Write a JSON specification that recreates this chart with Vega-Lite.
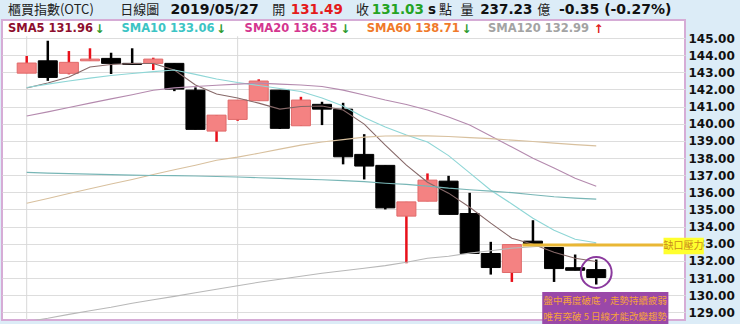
{
  "$schema": "https://vega.github.io/schema/vega-lite/v6.json",
  "autosize": {"type": "none"},
  "width": 683,
  "height": 300,
  "padding": {"left": 2, "top": 20, "right": 55, "bottom": 4},
  "background": "#dcecf7",
  "config": {
    "view": {"fill": "white", "stroke": "#d6acd6", "strokeWidth": 2},
    "text": {"baseline": "middle", "align": "left"}
  },
  "resolve": {"axis": {"x": "independent", "y": "independent"}},
  "data": {
    "values": [
      {"i": 1, "o": 142.95, "h": 143.95, "l": 142.95, "c": 143.54, "ma5": 142.08, "ma10": 142.11, "ma20": 140.45, "ma60": 135.36, "ma120": 128.45, "mx": 137.16},
      {"i": 2, "o": 143.67, "h": 144.84, "l": 142.50, "c": 142.70, "ma5": 142.37, "ma10": 142.31, "ma20": 140.69, "ma60": 135.64, "ma120": 128.65, "mx": 137.12},
      {"i": 3, "o": 142.94, "h": 144.24, "l": 142.88, "c": 143.58, "ma5": 142.72, "ma10": 142.49, "ma20": 140.95, "ma60": 135.93, "ma120": 128.88, "mx": 137.09},
      {"i": 4, "o": 143.67, "h": 144.40, "l": 143.67, "c": 143.77, "ma5": 143.31, "ma10": 142.66, "ma20": 141.20, "ma60": 136.21, "ma120": 129.09, "mx": 137.06},
      {"i": 5, "o": 143.81, "h": 144.14, "l": 142.90, "c": 143.52, "ma5": 143.45, "ma10": 142.81, "ma20": 141.45, "ma60": 136.48, "ma120": 129.29, "mx": 137.03},
      {"i": 6, "o": 143.52, "h": 144.40, "l": 143.46, "c": 143.46, "ma5": 143.51, "ma10": 142.93, "ma20": 141.69, "ma60": 136.75, "ma120": 129.53, "mx": 137.00},
      {"i": 7, "o": 143.52, "h": 143.85, "l": 143.13, "c": 143.77, "ma5": 143.51, "ma10": 143.04, "ma20": 141.95, "ma60": 137.04, "ma120": 129.73, "mx": 136.98},
      {"i": 8, "o": 143.52, "h": 143.52, "l": 141.90, "c": 142.02, "ma5": 143.13, "ma10": 143.13, "ma20": 142.09, "ma60": 137.31, "ma120": 129.93, "mx": 136.97},
      {"i": 9, "o": 141.96, "h": 142.12, "l": 139.67, "c": 139.67, "ma5": 142.26, "ma10": 142.88, "ma20": 142.17, "ma60": 137.58, "ma120": 130.14, "mx": 136.95},
      {"i": 10, "o": 139.57, "h": 140.50, "l": 138.95, "c": 140.50, "ma5": 141.73, "ma10": 142.61, "ma20": 142.24, "ma60": 137.87, "ma120": 130.34, "mx": 136.92},
      {"i": 11, "o": 140.25, "h": 141.38, "l": 140.17, "c": 141.38, "ma5": 141.50, "ma10": 142.40, "ma20": 142.31, "ma60": 138.05, "ma120": 130.55, "mx": 136.89},
      {"i": 12, "o": 141.34, "h": 142.59, "l": 141.34, "c": 142.49, "ma5": 141.20, "ma10": 142.23, "ma20": 142.37, "ma60": 138.28, "ma120": 130.75, "mx": 136.85},
      {"i": 13, "o": 141.96, "h": 141.96, "l": 139.69, "c": 139.73, "ma5": 140.85, "ma10": 142.05, "ma20": 142.31, "ma60": 138.52, "ma120": 130.93, "mx": 136.81},
      {"i": 14, "o": 139.88, "h": 141.57, "l": 139.88, "c": 141.38, "ma5": 141.00, "ma10": 141.88, "ma20": 142.26, "ma60": 138.75, "ma120": 131.10, "mx": 136.77},
      {"i": 15, "o": 141.13, "h": 141.28, "l": 139.92, "c": 140.85, "ma5": 141.03, "ma10": 141.50, "ma20": 142.17, "ma60": 138.93, "ma120": 131.28, "mx": 136.73},
      {"i": 16, "o": 140.85, "h": 141.22, "l": 137.63, "c": 138.07, "ma5": 140.80, "ma10": 141.03, "ma20": 141.96, "ma60": 139.07, "ma120": 131.42, "mx": 136.68},
      {"i": 17, "o": 138.21, "h": 139.39, "l": 136.75, "c": 137.53, "ma5": 139.98, "ma10": 140.36, "ma20": 141.67, "ma60": 139.22, "ma120": 131.57, "mx": 136.62},
      {"i": 18, "o": 137.57, "h": 137.57, "l": 135.00, "c": 135.09, "ma5": 138.75, "ma10": 139.81, "ma20": 141.38, "ma60": 139.28, "ma120": 131.72, "mx": 136.53},
      {"i": 19, "o": 134.61, "h": 135.44, "l": 131.86, "c": 135.44, "ma5": 137.58, "ma10": 139.34, "ma20": 141.12, "ma60": 139.29, "ma120": 131.92, "mx": 136.46},
      {"i": 20, "o": 135.48, "h": 137.10, "l": 135.48, "c": 136.71, "ma5": 136.59, "ma10": 138.93, "ma20": 140.80, "ma60": 139.29, "ma120": 132.15, "mx": 136.36},
      {"i": 21, "o": 136.65, "h": 136.96, "l": 134.71, "c": 134.71, "ma5": 135.95, "ma10": 138.14, "ma20": 140.39, "ma60": 139.25, "ma120": 132.27, "mx": 136.24},
      {"i": 22, "o": 134.76, "h": 135.97, "l": 132.43, "c": 132.43, "ma5": 135.13, "ma10": 137.13, "ma20": 139.92, "ma60": 139.19, "ma120": 132.45, "mx": 136.15},
      {"i": 23, "o": 132.43, "h": 133.11, "l": 131.20, "c": 131.61, "ma5": 134.20, "ma10": 136.12, "ma20": 139.28, "ma60": 139.13, "ma120": 132.59, "mx": 136.07},
      {"i": 24, "o": 131.32, "h": 132.95, "l": 130.77, "c": 132.95, "ma5": 133.32, "ma10": 135.32, "ma20": 138.64, "ma60": 139.04, "ma120": 132.74, "mx": 135.98},
      {"i": 25, "o": 133.15, "h": 134.37, "l": 133.01, "c": 133.01, "ma5": 132.97, "ma10": 134.49, "ma20": 137.99, "ma60": 138.96, "ma120": 132.82, "mx": 135.86},
      {"i": 26, "o": 132.78, "h": 132.78, "l": 130.77, "c": 131.55, "ma5": 132.50, "ma10": 133.79, "ma20": 137.41, "ma60": 138.87, "ma120": 132.91, "mx": 135.74},
      {"i": 27, "o": 131.60, "h": 132.37, "l": 131.45, "c": 131.45, "ma5": 132.15, "ma10": 133.26, "ma20": 136.82, "ma60": 138.78, "ma120": 132.97, "mx": 135.66},
      {"i": 28, "o": 131.49, "h": 132.08, "l": 130.62, "c": 131.03, "ma5": 131.96, "ma10": 133.06, "ma20": 136.35, "ma60": 138.71, "ma120": 132.99, "mx": 135.60}
    ]
  },
  "layer": [
    {
      "data": {"values": [{"i": 1}, {"i": 11}]},
      "mark": {"type": "rule", "color": "#d8d8d8", "strokeWidth": 1},
      "encoding": {
        "x": {"field": "i", "type": "quantitative", "scale": {"domain": [0.066, 31.971], "nice": false, "zero": false}, "axis": null},
        "y": {"datum": 145.1, "scale": {"domain": [128.55, 146.05], "nice": false, "zero": false}, "axis": null},
        "y2": {"datum": 128.55}
      }
    },
    {
      "mark": {"type": "rule", "strokeWidth": 2.5},
      "encoding": {
        "x": {"field": "i", "type": "quantitative", "scale": {"domain": [0.066, 31.971], "nice": false, "zero": false}, "axis": null},
        "y": {"field": "l", "type": "quantitative", "scale": {"domain": [128.55, 146.05], "nice": false, "zero": false},
          "axis": {"orient": "right", "values": [129, 130, 131, 132, 133, 134, 135, 136, 137, 138, 139, 140, 141, 142, 143, 144, 145], "format": ".2f", "title": null, "domain": false, "ticks": false, "labelFont": "DejaVu Sans", "labelFontWeight": "bold", "labelFontSize": 12, "labelColor": "#111111", "labelPadding": 3, "labelOverlap": false, "grid": true, "gridColor": "#dddddd", "gridWidth": 1}},
        "y2": {"field": "h"},
        "color": {"condition": {"test": "datum.c > datum.o", "value": "#e8101a"}, "value": "#000000"}
      }
    },
    {
      "mark": {"type": "bar", "size": 19, "orient": "vertical", "strokeWidth": 1},
      "encoding": {
        "x": {"field": "i", "type": "quantitative", "scale": {"domain": [0.066, 31.971], "nice": false, "zero": false}, "axis": null},
        "y": {"field": "o", "type": "quantitative", "scale": {"domain": [128.55, 146.05], "nice": false, "zero": false}, "axis": null},
        "y2": {"field": "c"},
        "fill": {"condition": {"test": "datum.c > datum.o", "value": "#f48282"}, "value": "#000000"},
        "stroke": {"condition": {"test": "datum.c > datum.o", "value": "#e06a6a"}, "value": "#000000"}
      }
    },
    {
      "transform": [{"fold": ["ma5", "ma10", "ma20", "ma60", "ma120", "mx"], "as": ["ma", "v"]}],
      "mark": {"type": "line", "strokeWidth": 1.1, "clip": true},
      "encoding": {
        "x": {"field": "i", "type": "quantitative", "scale": {"domain": [0.066, 31.971], "nice": false, "zero": false}, "axis": null},
        "y": {"field": "v", "type": "quantitative", "scale": {"domain": [128.55, 146.05], "nice": false, "zero": false}, "axis": null},
        "detail": {"field": "ma"},
        "color": {"field": "ma", "type": "nominal", "legend": null,
          "scale": {"domain": ["ma5", "ma10", "ma20", "ma60", "ma120", "mx"], "range": ["#866868", "#8ed6d6", "#b48aae", "#d8c09e", "#b8b8b8", "#78b6b6"]}}
      }
    },
    {
      "data": {"values": [{}]},
      "mark": {"type": "rule", "color": "#e9b735", "strokeWidth": 3},
      "encoding": {
        "x": {"datum": 24.5, "type": "quantitative", "scale": {"domain": [0.066, 31.971], "nice": false, "zero": false}, "axis": null},
        "x2": {"datum": 31.19},
        "y": {"datum": 132.93, "type": "quantitative", "scale": {"domain": [128.55, 146.05], "nice": false, "zero": false}, "axis": null}
      }
    },
    {
      "data": {"values": [{}]},
      "mark": {"type": "point", "shape": "circle", "filled": false, "size": 950, "stroke": "#8b3a9e", "strokeWidth": 2, "opacity": 1},
      "encoding": {
        "x": {"datum": 28, "type": "quantitative", "scale": {"domain": [0.066, 31.971], "nice": false, "zero": false}, "axis": null},
        "y": {"datum": 131.32, "type": "quantitative", "scale": {"domain": [128.55, 146.05], "nice": false, "zero": false}, "axis": null}
      }
    },
    {
      "data": {"values": [{}]},
      "mark": {"type": "rect", "fill": "#9a48a8"},
      "encoding": {
        "x": {"datum": 25.44, "type": "quantitative", "scale": {"domain": [0.066, 31.971], "nice": false, "zero": false}, "axis": null},
        "x2": {"datum": 31.42},
        "y": {"datum": 130.19, "type": "quantitative", "scale": {"domain": [128.55, 146.05], "nice": false, "zero": false}, "axis": null},
        "y2": {"datum": 128.3}
      }
    },
    {
      "data": {"values": [{}]},
      "mark": {"type": "text", "align": "center", "font": "Noto Sans CJK TC", "fontSize": 9.5, "color": "#f5a23c"},
      "encoding": {
        "x": {"datum": 28.43, "type": "quantitative", "scale": {"domain": [0.066, 31.971], "nice": false, "zero": false}, "axis": null},
        "y": {"datum": 129.66, "type": "quantitative", "scale": {"domain": [128.55, 146.05], "nice": false, "zero": false}, "axis": null},
        "text": {"value": "盤中再度破底，走勢持續疲弱"}
      }
    },
    {
      "data": {"values": [{}]},
      "mark": {"type": "text", "align": "center", "font": "Noto Sans CJK TC", "fontSize": 9.5, "color": "#f5a23c"},
      "encoding": {
        "x": {"datum": 28.43, "type": "quantitative", "scale": {"domain": [0.066, 31.971], "nice": false, "zero": false}, "axis": null},
        "y": {"datum": 128.73, "type": "quantitative", "scale": {"domain": [128.55, 146.05], "nice": false, "zero": false}, "axis": null},
        "text": {"value": "唯有突破 5 日線才能改變趨勢"}
      }
    },
    {
      "data": {"values": [{}]},
      "mark": {"type": "rect", "fill": "#ffff2e"},
      "encoding": {
        "x": {"datum": 31.19, "type": "quantitative", "scale": {"domain": [0.066, 31.971], "nice": false, "zero": false}, "axis": null},
        "x2": {"datum": 33.1},
        "y": {"datum": 133.35, "type": "quantitative", "scale": {"domain": [128.55, 146.05], "nice": false, "zero": false}, "axis": null},
        "y2": {"datum": 132.39}
      }
    },
    {
      "data": {"values": [{}]},
      "mark": {"type": "text", "align": "center", "font": "Noto Sans CJK TC", "fontSize": 10, "color": "#c98a1c"},
      "encoding": {
        "x": {"datum": 32.14, "type": "quantitative", "scale": {"domain": [0.066, 31.971], "nice": false, "zero": false}, "axis": null},
        "y": {"datum": 132.87, "type": "quantitative", "scale": {"domain": [128.55, 146.05], "nice": false, "zero": false}, "axis": null},
        "text": {"value": "缺口壓力"}
      }
    },
    {"data": {"values": [{}]}, "mark": {"type": "text", "font": "Noto Sans CJK TC", "fontSize": 13, "color": "#222222"},
      "encoding": {"x": {"datum": 0.112, "type": "quantitative", "scale": {"domain": [0.066, 31.971], "nice": false, "zero": false}, "axis": null}, "y": {"datum": 146.63, "type": "quantitative", "scale": {"domain": [128.55, 146.05], "nice": false, "zero": false}, "axis": null}, "text": {"value": "櫃買指數(OTC)"}}},
    {"data": {"values": [{}]}, "mark": {"type": "text", "font": "Noto Sans CJK TC", "fontSize": 13, "color": "#222222"},
      "encoding": {"x": {"datum": 5.44, "type": "quantitative", "scale": {"domain": [0.066, 31.971], "nice": false, "zero": false}, "axis": null}, "y": {"datum": 146.63, "type": "quantitative", "scale": {"domain": [128.55, 146.05], "nice": false, "zero": false}, "axis": null}, "text": {"value": "日線圖"}}},
    {"data": {"values": [{}]}, "mark": {"type": "text", "font": "DejaVu Sans", "fontWeight": "bold", "fontSize": 14, "color": "#111111"},
      "encoding": {"x": {"datum": 7.82, "type": "quantitative", "scale": {"domain": [0.066, 31.971], "nice": false, "zero": false}, "axis": null}, "y": {"datum": 146.63, "type": "quantitative", "scale": {"domain": [128.55, 146.05], "nice": false, "zero": false}, "axis": null}, "text": {"value": "2019/05/27"}}},
    {"data": {"values": [{}]}, "mark": {"type": "text", "font": "Noto Sans CJK TC", "fontSize": 13, "color": "#222222"},
      "encoding": {"x": {"datum": 12.64, "type": "quantitative", "scale": {"domain": [0.066, 31.971], "nice": false, "zero": false}, "axis": null}, "y": {"datum": 146.63, "type": "quantitative", "scale": {"domain": [128.55, 146.05], "nice": false, "zero": false}, "axis": null}, "text": {"value": "開"}}},
    {"data": {"values": [{}]}, "mark": {"type": "text", "font": "DejaVu Sans", "fontWeight": "bold", "fontSize": 13.5, "color": "#e41b1b"},
      "encoding": {"x": {"datum": 13.52, "type": "quantitative", "scale": {"domain": [0.066, 31.971], "nice": false, "zero": false}, "axis": null}, "y": {"datum": 146.63, "type": "quantitative", "scale": {"domain": [128.55, 146.05], "nice": false, "zero": false}, "axis": null}, "text": {"value": "131.49"}}},
    {"data": {"values": [{}]}, "mark": {"type": "text", "font": "Noto Sans CJK TC", "fontSize": 13, "color": "#222222"},
      "encoding": {"x": {"datum": 16.61, "type": "quantitative", "scale": {"domain": [0.066, 31.971], "nice": false, "zero": false}, "axis": null}, "y": {"datum": 146.63, "type": "quantitative", "scale": {"domain": [128.55, 146.05], "nice": false, "zero": false}, "axis": null}, "text": {"value": "收"}}},
    {"data": {"values": [{}]}, "mark": {"type": "text", "font": "DejaVu Sans", "fontWeight": "bold", "fontSize": 13.5, "color": "#24a324"},
      "encoding": {"x": {"datum": 17.36, "type": "quantitative", "scale": {"domain": [0.066, 31.971], "nice": false, "zero": false}, "axis": null}, "y": {"datum": 146.63, "type": "quantitative", "scale": {"domain": [128.55, 146.05], "nice": false, "zero": false}, "axis": null}, "text": {"value": "131.03"}}},
    {"data": {"values": [{}]}, "mark": {"type": "text", "font": "DejaVu Sans", "fontWeight": "bold", "fontSize": 13.5, "color": "#111111"},
      "encoding": {"x": {"datum": 20.02, "type": "quantitative", "scale": {"domain": [0.066, 31.971], "nice": false, "zero": false}, "axis": null}, "y": {"datum": 146.63, "type": "quantitative", "scale": {"domain": [128.55, 146.05], "nice": false, "zero": false}, "axis": null}, "text": {"value": "s"}}},
    {"data": {"values": [{}]}, "mark": {"type": "text", "font": "Noto Sans CJK TC", "fontSize": 13, "color": "#222222"},
      "encoding": {"x": {"datum": 20.55, "type": "quantitative", "scale": {"domain": [0.066, 31.971], "nice": false, "zero": false}, "axis": null}, "y": {"datum": 146.63, "type": "quantitative", "scale": {"domain": [128.55, 146.05], "nice": false, "zero": false}, "axis": null}, "text": {"value": "點"}}},
    {"data": {"values": [{}]}, "mark": {"type": "text", "font": "Noto Sans CJK TC", "fontSize": 13, "color": "#222222"},
      "encoding": {"x": {"datum": 21.56, "type": "quantitative", "scale": {"domain": [0.066, 31.971], "nice": false, "zero": false}, "axis": null}, "y": {"datum": 146.63, "type": "quantitative", "scale": {"domain": [128.55, 146.05], "nice": false, "zero": false}, "axis": null}, "text": {"value": "量"}}},
    {"data": {"values": [{}]}, "mark": {"type": "text", "font": "DejaVu Sans", "fontWeight": "bold", "fontSize": 13.5, "color": "#111111"},
      "encoding": {"x": {"datum": 22.5, "type": "quantitative", "scale": {"domain": [0.066, 31.971], "nice": false, "zero": false}, "axis": null}, "y": {"datum": 146.63, "type": "quantitative", "scale": {"domain": [128.55, 146.05], "nice": false, "zero": false}, "axis": null}, "text": {"value": "237.23"}}},
    {"data": {"values": [{}]}, "mark": {"type": "text", "font": "Noto Sans CJK TC", "fontSize": 13, "color": "#222222"},
      "encoding": {"x": {"datum": 25.2, "type": "quantitative", "scale": {"domain": [0.066, 31.971], "nice": false, "zero": false}, "axis": null}, "y": {"datum": 146.63, "type": "quantitative", "scale": {"domain": [128.55, 146.05], "nice": false, "zero": false}, "axis": null}, "text": {"value": "億"}}},
    {"data": {"values": [{}]}, "mark": {"type": "text", "font": "DejaVu Sans", "fontWeight": "bold", "fontSize": 14, "color": "#111111"},
      "encoding": {"x": {"datum": 26.23, "type": "quantitative", "scale": {"domain": [0.066, 31.971], "nice": false, "zero": false}, "axis": null}, "y": {"datum": 146.63, "type": "quantitative", "scale": {"domain": [128.55, 146.05], "nice": false, "zero": false}, "axis": null}, "text": {"value": "-0.35 (-0.27%)"}}},
    {"data": {"values": [{}]}, "mark": {"type": "text", "font": "DejaVu Sans", "fontWeight": "bold", "fontSize": 11.5, "color": "#8e0f2e"},
      "encoding": {"x": {"datum": 0.112, "type": "quantitative", "scale": {"domain": [0.066, 31.971], "nice": false, "zero": false}, "axis": null}, "y": {"datum": 145.5, "type": "quantitative", "scale": {"domain": [128.55, 146.05], "nice": false, "zero": false}, "axis": null}, "text": {"value": "SMA5 131.96"}}},
    {"data": {"values": [{}]}, "mark": {"type": "text", "font": "DejaVu Sans", "fontWeight": "bold", "fontSize": 12, "color": "#2e9b2e"},
      "encoding": {"x": {"datum": 4.22, "type": "quantitative", "scale": {"domain": [0.066, 31.971], "nice": false, "zero": false}, "axis": null}, "y": {"datum": 145.5, "type": "quantitative", "scale": {"domain": [128.55, 146.05], "nice": false, "zero": false}, "axis": null}, "text": {"value": "↓"}}},
    {"data": {"values": [{}]}, "mark": {"type": "text", "font": "DejaVu Sans", "fontWeight": "bold", "fontSize": 11.5, "color": "#3cc4c4"},
      "encoding": {"x": {"datum": 5.49, "type": "quantitative", "scale": {"domain": [0.066, 31.971], "nice": false, "zero": false}, "axis": null}, "y": {"datum": 145.5, "type": "quantitative", "scale": {"domain": [128.55, 146.05], "nice": false, "zero": false}, "axis": null}, "text": {"value": "SMA10 133.06"}}},
    {"data": {"values": [{}]}, "mark": {"type": "text", "font": "DejaVu Sans", "fontWeight": "bold", "fontSize": 12, "color": "#2e9b2e"},
      "encoding": {"x": {"datum": 9.97, "type": "quantitative", "scale": {"domain": [0.066, 31.971], "nice": false, "zero": false}, "axis": null}, "y": {"datum": 145.5, "type": "quantitative", "scale": {"domain": [128.55, 146.05], "nice": false, "zero": false}, "axis": null}, "text": {"value": "↓"}}},
    {"data": {"values": [{}]}, "mark": {"type": "text", "font": "DejaVu Sans", "fontWeight": "bold", "fontSize": 11.5, "color": "#d4368f"},
      "encoding": {"x": {"datum": 11.33, "type": "quantitative", "scale": {"domain": [0.066, 31.971], "nice": false, "zero": false}, "axis": null}, "y": {"datum": 145.5, "type": "quantitative", "scale": {"domain": [128.55, 146.05], "nice": false, "zero": false}, "axis": null}, "text": {"value": "SMA20 136.35"}}},
    {"data": {"values": [{}]}, "mark": {"type": "text", "font": "DejaVu Sans", "fontWeight": "bold", "fontSize": 12, "color": "#2e9b2e"},
      "encoding": {"x": {"datum": 15.86, "type": "quantitative", "scale": {"domain": [0.066, 31.971], "nice": false, "zero": false}, "axis": null}, "y": {"datum": 145.5, "type": "quantitative", "scale": {"domain": [128.55, 146.05], "nice": false, "zero": false}, "axis": null}, "text": {"value": "↓"}}},
    {"data": {"values": [{}]}, "mark": {"type": "text", "font": "DejaVu Sans", "fontWeight": "bold", "fontSize": 11.5, "color": "#f07a2a"},
      "encoding": {"x": {"datum": 17.12, "type": "quantitative", "scale": {"domain": [0.066, 31.971], "nice": false, "zero": false}, "axis": null}, "y": {"datum": 145.5, "type": "quantitative", "scale": {"domain": [128.55, 146.05], "nice": false, "zero": false}, "axis": null}, "text": {"value": "SMA60 138.71"}}},
    {"data": {"values": [{}]}, "mark": {"type": "text", "font": "DejaVu Sans", "fontWeight": "bold", "fontSize": 12, "color": "#2e9b2e"},
      "encoding": {"x": {"datum": 21.61, "type": "quantitative", "scale": {"domain": [0.066, 31.971], "nice": false, "zero": false}, "axis": null}, "y": {"datum": 145.5, "type": "quantitative", "scale": {"domain": [128.55, 146.05], "nice": false, "zero": false}, "axis": null}, "text": {"value": "↓"}}},
    {"data": {"values": [{}]}, "mark": {"type": "text", "font": "DejaVu Sans", "fontWeight": "bold", "fontSize": 11.5, "color": "#a3a3a3"},
      "encoding": {"x": {"datum": 22.87, "type": "quantitative", "scale": {"domain": [0.066, 31.971], "nice": false, "zero": false}, "axis": null}, "y": {"datum": 145.5, "type": "quantitative", "scale": {"domain": [128.55, 146.05], "nice": false, "zero": false}, "axis": null}, "text": {"value": "SMA120 132.99"}}},
    {"data": {"values": [{}]}, "mark": {"type": "text", "font": "DejaVu Sans", "fontWeight": "bold", "fontSize": 12, "color": "#e02020"},
      "encoding": {"x": {"datum": 27.87, "type": "quantitative", "scale": {"domain": [0.066, 31.971], "nice": false, "zero": false}, "axis": null}, "y": {"datum": 145.5, "type": "quantitative", "scale": {"domain": [128.55, 146.05], "nice": false, "zero": false}, "axis": null}, "text": {"value": "↑"}}}
  ]
}
